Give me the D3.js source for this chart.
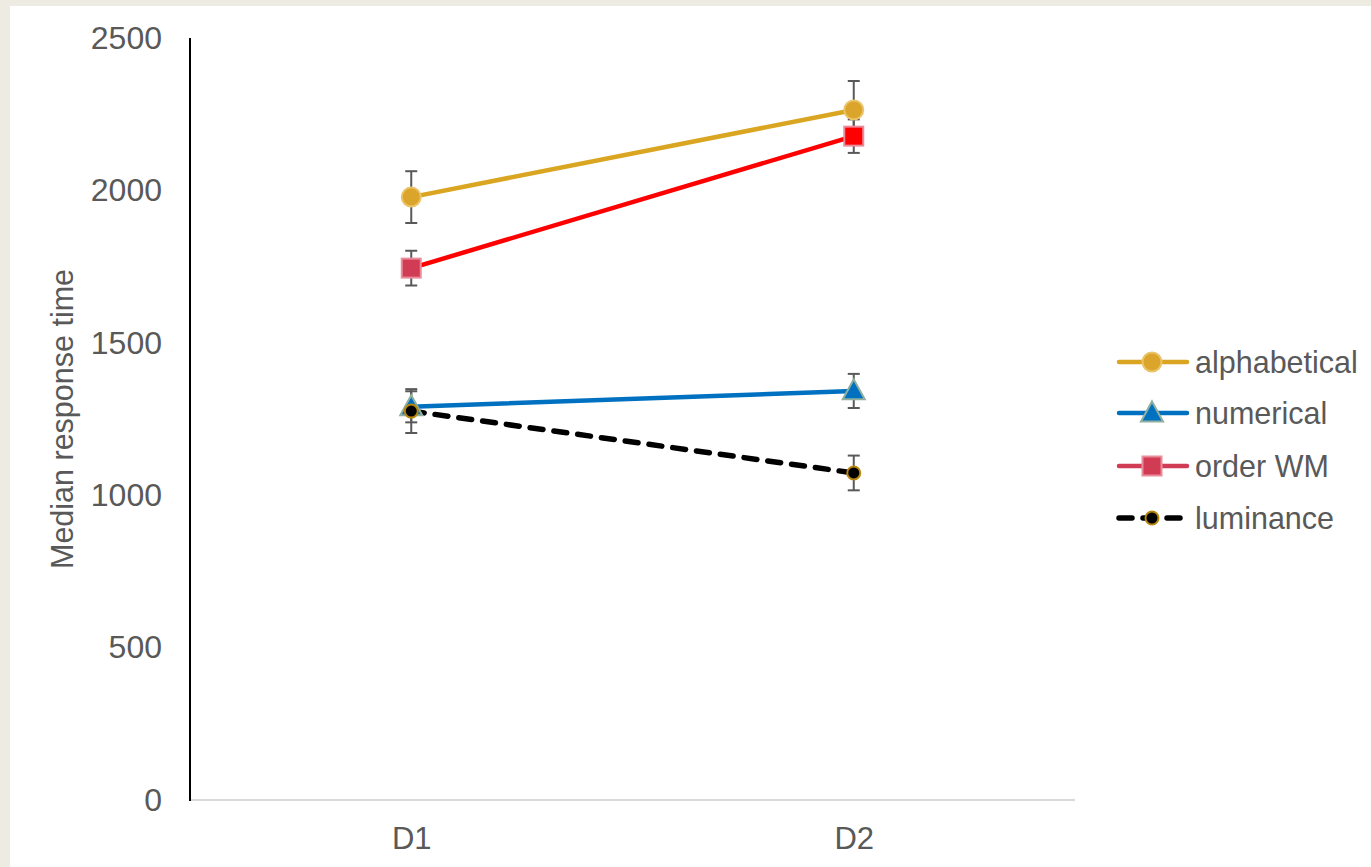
<!DOCTYPE html>
<html>
<head>
<meta charset="utf-8">
<script src="https://cdn.jsdelivr.net/npm/d3@7"></script>
<style>
  html, body { margin: 0; padding: 0; background: #eeebe3; }
  svg { display: block; }
  text { font-family: "Liberation Sans", Arial, sans-serif; }
</style>
</head>
<body>
<svg id="chart" width="1371" height="867"></svg>
<script>
const categories = ["D1", "D2"];
const seriesNames = ["alphabetical", "numerical", "order WM", "luminance"];
const alphabetical = [1978, 2264];
const alphabeticalErr = [85, 95];
const numerical = [1290, 1342];
const numericalErr = [51, 56];
const orderWM = [1745, 2178];
const orderWMErr = [57, 55];
const luminance = [1276, 1073];
const luminanceErr = [72, 57];
const yTicks = [0, 500, 1000, 1500, 2000, 2500];
const yTitle = "Median response time";

const series = [
  { name: seriesNames[0], values: alphabetical, err: alphabeticalErr, line: "#DAA520", marker: "circle", fill: ["#DAA52A", "#DAA52A"], stroke: "#EBC46A", size: 9.5, dash: null },
  { name: seriesNames[1], values: numerical, err: numericalErr, line: "#0070C0", marker: "triangle", fill: ["#0070C0", "#0070C0"], stroke: "#8FAF9F", size: 11, dash: null },
  { name: seriesNames[2], values: orderWM, err: orderWMErr, line: "#FF0000", marker: "square", fill: ["#D13B54", "#FF0000"], stroke: "#E98C9C", size: 9.5, dash: null, legendFill: "#D13B54", legendLine: "#D13B54" },
  { name: seriesNames[3], values: luminance, err: luminanceErr, line: "#000000", marker: "circle", fill: ["#000000", "#000000"], stroke: "#B8860B", size: 6.5, dash: "13,11" }
];

const svg = d3.select("#chart");
// white panel
svg.append("rect").attr("x", 10).attr("y", 6).attr("width", 1361).attr("height", 861).attr("fill", "#ffffff");

const x = d3.scalePoint().domain(categories).range([190, 1075]).padding(0.5);
const y = d3.scaleLinear().domain([0, 2500]).range([800, 38]);

// Y axis tick labels
const yAxis = d3.axisLeft(y).tickValues(yTicks).tickSize(0).tickPadding(28).tickFormat(d3.format("d"));
const gy = svg.append("g").attr("transform", "translate(190,0)").call(yAxis);
gy.select(".domain").remove();
gy.selectAll("text").attr("fill", "#595959").style("font-size", "32px").style("font-family", "'Liberation Sans', Arial, sans-serif");

// X axis labels
const xAxis = d3.axisBottom(x).tickSize(0).tickPadding(27);
const gx = svg.append("g").attr("transform", "translate(0,800)").call(xAxis);
gx.select(".domain").remove();
gx.selectAll("text").attr("fill", "#595959").style("font-size", "31px").style("font-family", "'Liberation Sans', Arial, sans-serif");

// axis lines
svg.append("line").attr("x1", 190).attr("x2", 1075).attr("y1", y(0)).attr("y2", y(0)).attr("stroke", "#d9d9d9").attr("stroke-width", 2);
svg.append("line").attr("x1", 190).attr("x2", 190).attr("y1", y(2500)).attr("y2", y(0) + 1).attr("stroke", "#000").attr("stroke-width", 2);

// y title
svg.append("text").attr("transform", `translate(73,${(y(0) + y(2500)) / 2}) rotate(-90)`)
  .attr("text-anchor", "middle").attr("fill", "#595959").style("font-size", "30.5px").text(yTitle);

// lines
const lineGen = d3.line().x((d, i) => x(categories[i])).y(d => y(d));
series.forEach(s => {
  svg.append("path").datum(s.values).attr("d", lineGen).attr("fill", "none")
    .attr("stroke", s.line).attr("stroke-width", s.dash ? 5.5 : 4.5).attr("stroke-linecap", "round")
    .attr("stroke-dasharray", s.dash);
});

// error bars
const cap = 6;
series.forEach(s => {
  s.values.forEach((v, i) => {
    const cx = x(categories[i]);
    const g = svg.append("g").attr("stroke", "#595959").attr("stroke-width", 2);
    g.append("line").attr("x1", cx).attr("x2", cx).attr("y1", y(v + s.err[i])).attr("y2", y(v - s.err[i]));
    g.append("line").attr("x1", cx - cap).attr("x2", cx + cap).attr("y1", y(v + s.err[i])).attr("y2", y(v + s.err[i]));
    g.append("line").attr("x1", cx - cap).attr("x2", cx + cap).attr("y1", y(v - s.err[i])).attr("y2", y(v - s.err[i]));
  });
});

function drawMarker(g, type, cx, cy, r, fill, stroke) {
  if (type === "circle") {
    g.append("circle").attr("cx", cx).attr("cy", cy).attr("r", r).attr("fill", fill).attr("stroke", stroke).attr("stroke-width", 2);
  } else if (type === "square") {
    g.append("rect").attr("x", cx - r).attr("y", cy - r).attr("width", 2 * r).attr("height", 2 * r).attr("fill", fill).attr("stroke", stroke).attr("stroke-width", 2);
  } else if (type === "triangle") {
    const h = r * 1.7;
    g.append("path").attr("d", `M${cx},${cy - h * 0.62} L${cx + r},${cy + h * 0.45} L${cx - r},${cy + h * 0.45} Z`)
      .attr("fill", fill).attr("stroke", stroke).attr("stroke-width", 2).attr("stroke-linejoin", "miter");
  }
}

// markers
series.forEach(s => {
  s.values.forEach((v, i) => {
    drawMarker(svg, s.marker, x(categories[i]), y(v), s.size, s.fill[i], s.stroke);
  });
});

// legend
const legend = svg.append("g");
const legendY = [362, 413, 466, 518];
series.forEach((s, i) => {
  const ly = legendY[i];
  legend.append("line").attr("x1", s.dash ? 1119 : 1119).attr("x2", s.dash ? 1180 : 1187).attr("y1", ly).attr("y2", ly)
    .attr("stroke", s.legendLine || s.line).attr("stroke-width", s.dash ? 5.5 : 4.5)
    .attr("stroke-linecap", "round").attr("stroke-dasharray", s.dash);
  drawMarker(legend, s.marker, 1152, ly, s.size, s.legendFill || s.fill[0], s.stroke);
  legend.append("text").attr("x", 1195).attr("y", ly).attr("dy", "0.36em").attr("fill", "#595959")
    .style("font-size", "30.5px").text(s.name);
});
</script>
</body>
</html>
